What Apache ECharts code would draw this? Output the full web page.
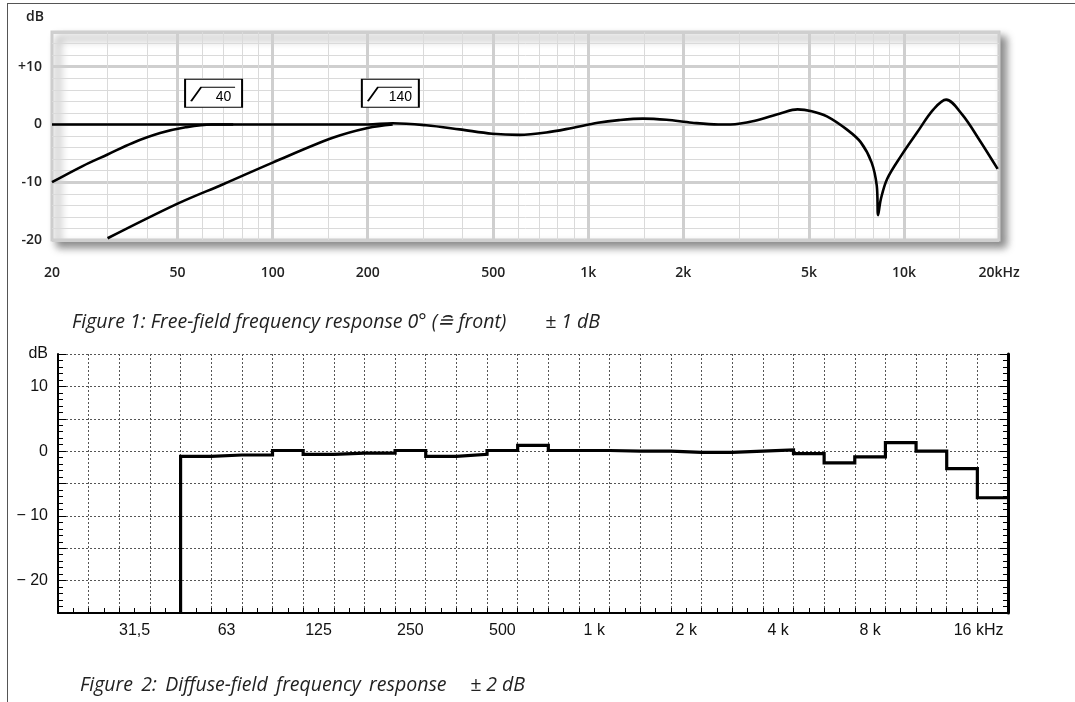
<!DOCTYPE html>
<html>
<head>
<meta charset="utf-8">
<title>Frequency response</title>
<script src="https://cdn.jsdelivr.net/npm/echarts@6/dist/echarts.min.js"></script>
<style>
    html, body { margin: 0; padding: 0; background: #fff; }
    #chart { width: 1075px; height: 702px; }
    #frame {
        position: absolute; left: 7px; top: 3px; width: 1068px; height: 699px;
        border-top: 1px solid #555; border-left: 1px solid #555; pointer-events: none;
    }
</style>
</head>
<body>
<div id="chart"></div>
<div id="frame"></div>
<script>
// ---- Figure 1: free-field response [Hz, dB]
const freeField = [
    [20, 0], [150, 0], [200, 0], [240, 0.2], [306, -0.15], [391, -0.85], [496, -1.6],
    [604, -1.8], [736, -1.4], [889, -0.6], [1072, 0.3], [1250, 0.75], [1490, 1.0],
    [1770, 0.8], [2130, 0.3], [2580, 0], [2820, 0], [3350, 0.6], [4100, 2.0], [4600, 2.6],
    [5100, 2.3], [5700, 1.4], [6600, -0.9], [7300, -3.1], [7900, -6.6], [8200, -10.6],
    [8280, -15.7], [8450, -12.9], [8850, -9.4], [9800, -5.4], [11000, -1.4], [12400, 2.6],
    [13600, 4.3], [15300, 1.7], [17300, -2.6], [19800, -7.7]
];
const lowCut40 = [[20, -10], [25, -7.2], [30, -5.2], [36, -3.2], [44, -1.5], [53, -0.5], [64, 0], [75, 0]];
const lowCut140 = [[30, -19.7], [50, -13.7], [70, -10.3], [100, -6.6], [155, -2.3], [200, -0.6], [240, 0]];
const filterTags = [
    { text: "40", hz: 65, db: 5.4 },
    { text: "140", hz: 236, db: 5.4 }
];
const fig1LabelHz = [20, 50, 100, 200, 500, 1000, 2000, 5000, 10000, 20000];
const fig1LabelText = ["20", "50", "100", "200", "500", "1k", "2k", "5k", "10k", "20kHz"];
const fig1MajorHz = [50, 100, 200, 500, 1000, 2000, 5000, 10000];
const fig1MinorHz = [30, 40, 60, 70, 80, 90, 150, 300, 400, 600, 700, 800, 900, 1500,
    3000, 4000, 6000, 7000, 8000, 9000, 15000];

// ---- Figure 2: diffuse-field, third-octave bands (0 = 1 kHz, -13 = 50 Hz, 13 = 20 kHz)
const bandIndex = [-13, -12, -11, -10, -9, -8, -7, -6, -5, -4, -3, -2, -1, 0,
    1, 2, 3, 4, 5, 6, 7, 8, 9, 10, 11, 12, 13];
const bandDb = [-0.8, -0.6, -0.6, 0.1, -0.5, -0.3, -0.3, 0.1, -0.8, -0.5, 0.1, 0.9, 0.1, 0.1,
    0.0, 0.0, -0.2, -0.2, 0.0, 0.2, -0.4, -1.8, -0.9, 1.3, 0.0, -2.7, -7.2];
const fig2LabelIndex = [-15, -12, -9, -6, -3, 0, 3, 6, 9, 12];
const fig2LabelText = ["31,5", "63", "125", "250", "500", "1 k", "2 k", "4 k", "8 k", "16 kHz"];

const chart = echarts.init(document.getElementById("chart"));

// band edges -> step outline, starting from the bottom of the scale
const stepPoints = [[bandIndex[0] - 0.5, -25]];
bandIndex.forEach((b, i) => {
    stepPoints.push([b - 0.5, bandDb[i]], [b + 0.5, bandDb[i]]);
});

const topFont = { fontFamily: "Open Sans", fontSize: 14, fontWeight: 600, color: "#222" };
const botFont = { fontFamily: "Liberation Sans", fontSize: 16, color: "#111" };
const capFont = { fontFamily: "Open Sans", fontStyle: "italic", fontWeight: "normal", fontSize: 19.5, color: "#222" };
const lightGrid = { color: "#dadada", width: 1 };
const heavyGrid = { color: "#cfcfcf", width: 3 };
const dotted = { color: "#555", width: 1, type: [2, 2] };

const fig1Label = v => {
    const i = fig1LabelHz.indexOf(Math.round(v));
    return i < 0 ? "" : fig1LabelText[i];
};
const fig2Label = v => {
    const i = fig2LabelIndex.indexOf(Math.round(v));
    if (i < 0) return "";
    return i === fig2LabelText.length - 1 ? "{last|" + fig2LabelText[i] + "}" : fig2LabelText[i];
};

const option = {
    animation: false,
    title: [
        { text: "Figure 1: Free-field frequency response 0° (≘ front)", left: 72, top: 312, padding: 0, textStyle: capFont },
        { text: "± 1 dB", left: 545, top: 312, padding: 0, textStyle: capFont },
        { text: "Figure\u2009 2:\u2009 Diffuse-field\u2009 frequency\u2009 response", left: 80, top: 675, padding: 0, textStyle: capFont },
        { text: "± 2 dB", left: 470, top: 675, padding: 0, textStyle: capFont }
    ],
    grid: [
        {
            left: 52, top: 32, width: 947, height: 208,
            show: true, backgroundColor: "#fff", borderColor: "#cdcdcd", borderWidth: 3,
            shadowColor: "rgba(0,0,0,0.45)", shadowBlur: 8, shadowOffsetX: 6, shadowOffsetY: 6
        },
        { left: 58, top: 354, width: 950, height: 259 }
    ],
    xAxis: [
        {
            gridIndex: 0, type: "log", logBase: 10, min: 20, max: 20000,
            axisLine: { show: false },
            axisTick: { show: false, customValues: fig1MinorHz },
            axisLabel: { customValues: fig1LabelHz, formatter: fig1Label, margin: 26, ...topFont },
            splitLine: { show: true, lineStyle: lightGrid }
        },
        {
            gridIndex: 0, type: "log", logBase: 10, min: 20, max: 20000, position: "bottom",
            axisLine: { show: false },
            axisTick: { show: false, customValues: fig1MajorHz },
            axisLabel: { show: false },
            splitLine: { show: true, lineStyle: heavyGrid }
        },
        {
            gridIndex: 1, type: "value", min: -17.5, max: 13.5, interval: 1,
            axisLine: { onZero: false, lineStyle: { color: "#000", width: 2 } },
            axisTick: { inside: true, length: 5, lineStyle: { color: "#000" } },
            minorTick: { show: true, splitNumber: 2, length: 5, lineStyle: { color: "#000" } },
            axisLabel: {
                customValues: fig2LabelIndex, formatter: fig2Label, margin: 10, ...botFont,
                rich: { last: { ...botFont, padding: [0, 0, 0, 33] } }
            },
            splitLine: { show: true, lineStyle: dotted }
        }
    ],
    yAxis: [
        {
            gridIndex: 0, type: "value", min: -20, max: 16, interval: 2,
            name: "dB", nameLocation: "end", nameGap: 8,
            nameTextStyle: { ...topFont, align: "right", padding: [0, 8, 0, 0] },
            axisLine: { show: false }, axisTick: { show: false },
            axisLabel: {
                margin: 10, ...topFont,
                formatter: v => (v === 10 ? "+10" : v % 10 === 0 && v < 16 ? String(v) : "")
            },
            splitLine: { show: true, lineStyle: lightGrid }
        },
        {
            gridIndex: 0, type: "value", min: -20, max: 16, interval: 10, position: "left",
            axisLine: { show: false }, axisTick: { show: false }, axisLabel: { show: false },
            splitLine: { show: true, lineStyle: heavyGrid }
        },
        {
            gridIndex: 1, type: "value", min: -25, max: 15, interval: 5,
            axisLine: { show: true, onZero: false, lineStyle: { color: "#000", width: 2 } },
            axisTick: { inside: true, length: 8, lineStyle: { color: "#000" } },
            minorTick: { show: true, splitNumber: 5, length: 5, lineStyle: { color: "#000" } },
            axisLabel: {
                margin: 10, ...botFont,
                formatter: v => (v === 15 ? "dB" : v % 10 !== 0 ? "" : v < 0 ? "\u2212 " + (-v) : String(v))
            },
            splitLine: { show: true, lineStyle: dotted }
        },
        {
            gridIndex: 1, type: "value", min: -25, max: 15, interval: 5, position: "right",
            axisLine: { show: true, onZero: false, lineStyle: { color: "#000", width: 3 } },
            axisTick: { inside: true, length: 8, lineStyle: { color: "#000" } },
            minorTick: { show: true, splitNumber: 5, length: 5, lineStyle: { color: "#000" } },
            axisLabel: { show: false },
            splitLine: { show: false }
        }
    ],
    series: [
        {
            name: "free field", type: "line", xAxisIndex: 0, yAxisIndex: 0,
            data: freeField, smooth: 0.35, symbol: "none",
            lineStyle: { color: "#000", width: 2.6 },
            markPoint: {
                symbol: "path://M0,0H57V28H0Z M6,22L16,8H50",
                symbolSize: [57, 28],
                itemStyle: { color: "#fff", borderColor: "#000", borderWidth: 1.4 },
                label: {
                    show: true, position: "inside", offset: [10, 4],
                    formatter: p => p.value,
                    fontFamily: "Liberation Sans", fontSize: 14, color: "#000"
                },
                data: filterTags.map(t => ({ coord: [t.hz, t.db], value: t.text }))
            }
        },
        {
            name: "low cut 40", type: "line", xAxisIndex: 0, yAxisIndex: 0,
            data: lowCut40, smooth: 0.35, symbol: "none",
            lineStyle: { color: "#000", width: 2.6 }
        },
        {
            name: "low cut 140", type: "line", xAxisIndex: 0, yAxisIndex: 0,
            data: lowCut140, smooth: 0.35, symbol: "none",
            lineStyle: { color: "#000", width: 2.6 }
        },
        {
            name: "diffuse field", type: "line", xAxisIndex: 2, yAxisIndex: 2,
            data: stepPoints, symbol: "none",
            lineStyle: { color: "#000", width: 3.2, join: "miter" }
        }
    ]
};

chart.setOption(option);
console.log("chart ready");
</script>
</body>
</html>
